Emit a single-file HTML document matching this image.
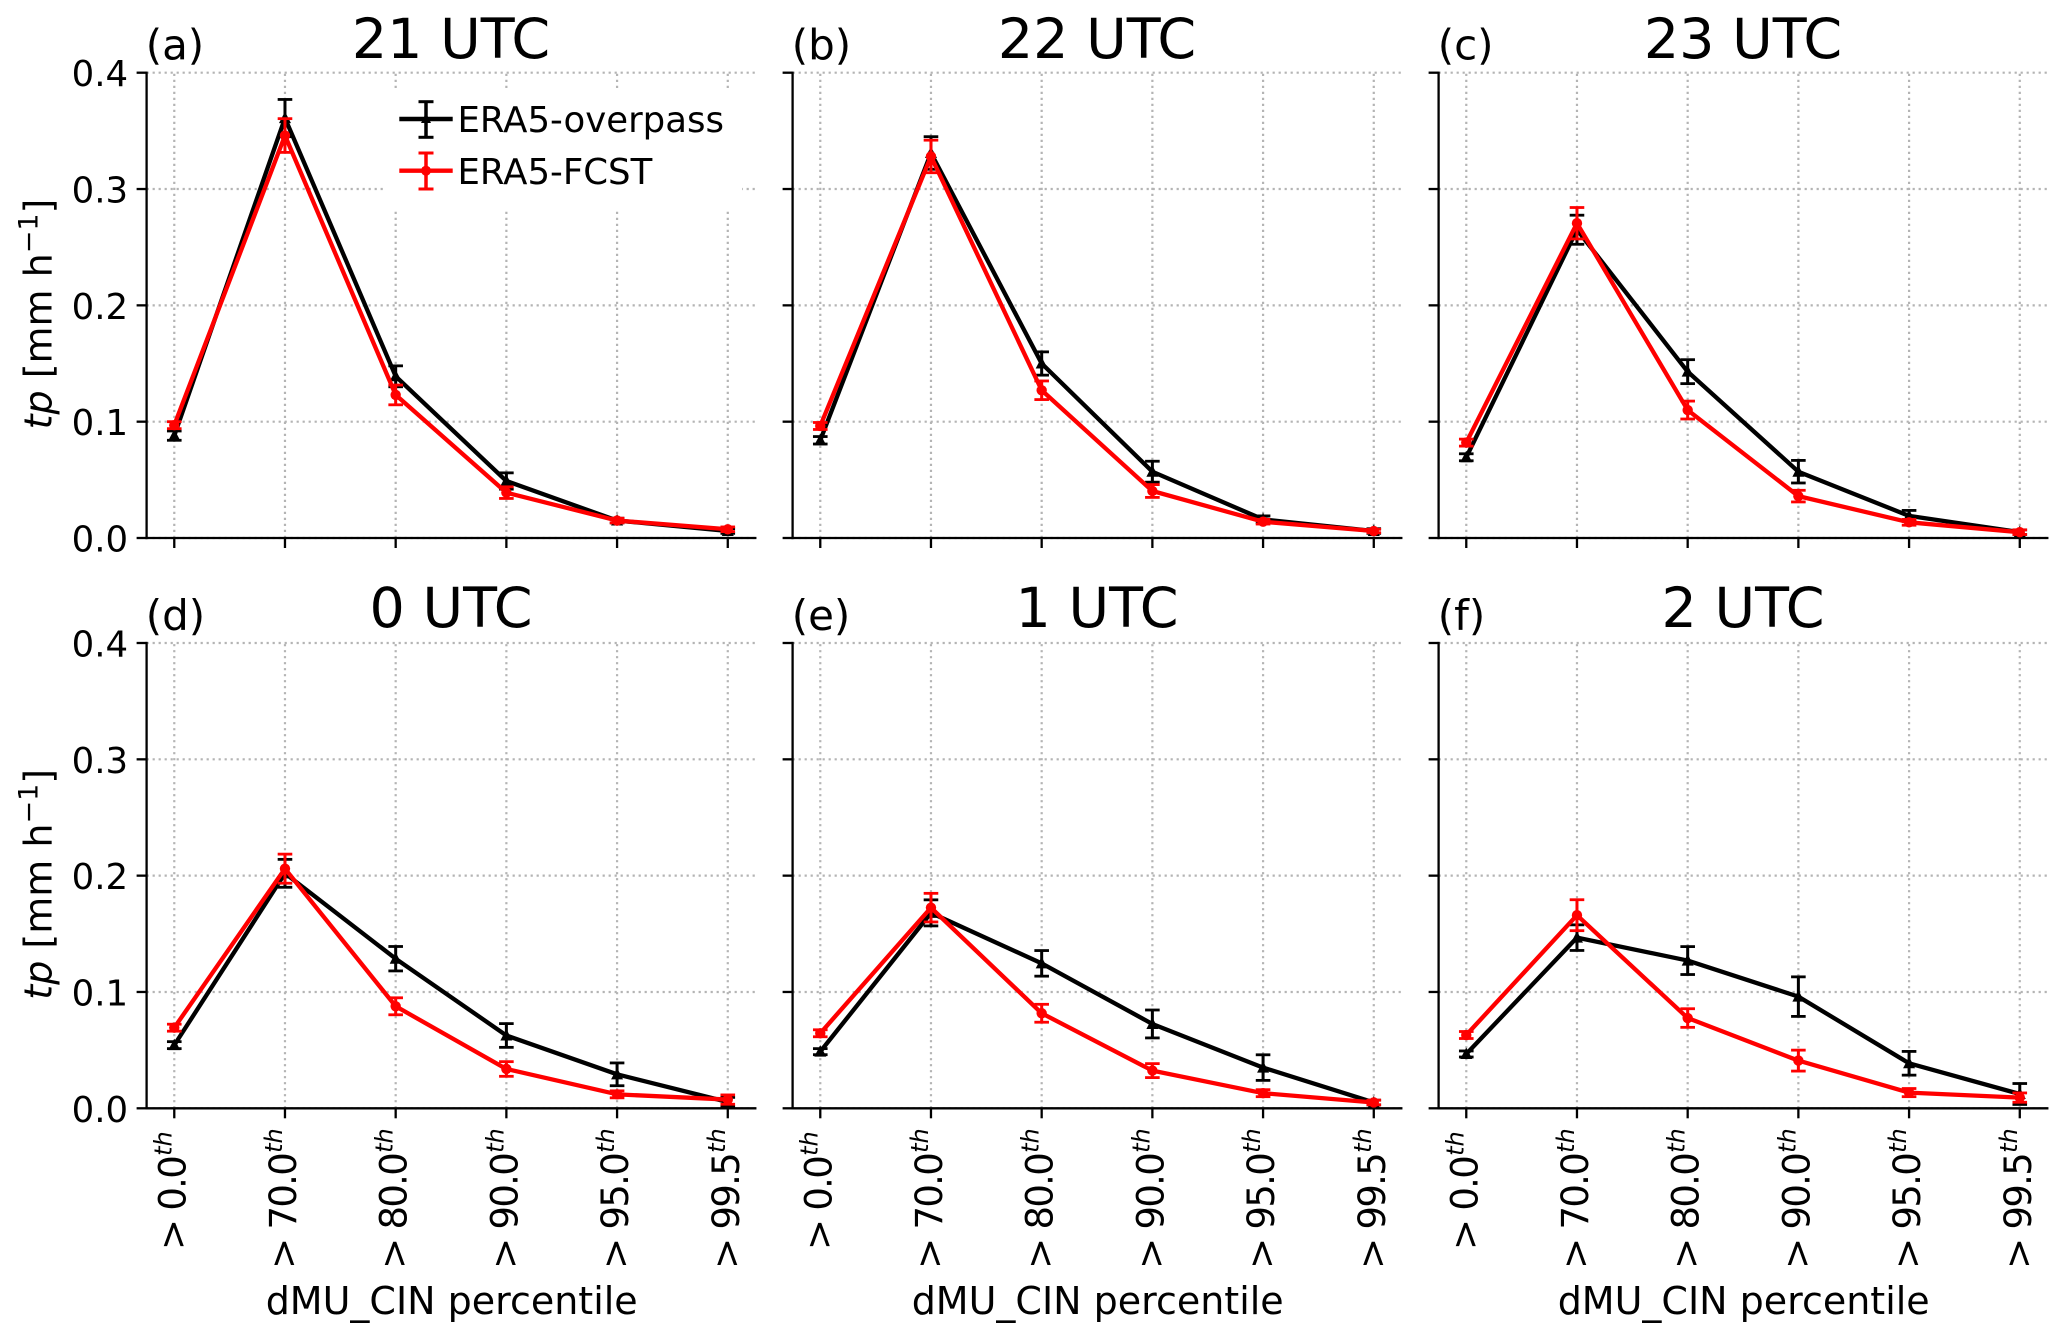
<!DOCTYPE html>
<html lang="en">
<head>
<meta charset="utf-8">
<title>ERA5 tp by dMU_CIN percentile</title>
<style>
  html, body { margin: 0; padding: 0; background: #fff; }
  svg { display: block; font-family: "DejaVu Sans", "Liberation Sans", sans-serif; fill: #000; }
  .title { font-size: 55.5px; text-anchor: middle; }
  .letter { font-size: 42px; }
  .xlabel { font-size: 38px; text-anchor: middle; }
  .ylabel { font-size: 38px; text-anchor: middle; }
  .legend-text { font-size: 35.5px; }
  .ytick { font-size: 35.5px; text-anchor: end; }
  .xtick { font-size: 37px; text-anchor: end; letter-spacing: -1.7px; }
</style>
</head>
<body>
<svg id="figure" xmlns="http://www.w3.org/2000/svg" width="2067" height="1341" viewBox="0 0 2067 1341">
  <rect x="0" y="0" width="2067" height="1341" fill="#ffffff"/>
  <g id="panels"></g>

  <g>
    <text class="title" x="451" y="58">21 UTC</text>
    <text class="title" x="1097" y="58">22 UTC</text>
    <text class="title" x="1743" y="58">23 UTC</text>
    <text class="title" x="451" y="627">0 UTC</text>
    <text class="title" x="1097" y="627">1 UTC</text>
    <text class="title" x="1743" y="627">2 UTC</text>
  </g>
  <g>
    <text class="letter" x="145.7" y="59.5">(a)</text>
    <text class="letter" x="791.7" y="59.5">(b)</text>
    <text class="letter" x="1437.7" y="59.5">(c)</text>
    <text class="letter" x="145.7" y="630">(d)</text>
    <text class="letter" x="791.7" y="630">(e)</text>
    <text class="letter" x="1437.7" y="630">(f)</text>
  </g>
  <g>
    <text class="ylabel" transform="translate(51.7,314) rotate(-90)"><tspan font-style="italic">tp</tspan> [mm h<tspan dy="-14" font-size="27">−1</tspan><tspan dy="14">]</tspan></text>
    <text class="ylabel" transform="translate(51.7,884.3) rotate(-90)"><tspan font-style="italic">tp</tspan> [mm h<tspan dy="-14" font-size="27">−1</tspan><tspan dy="14">]</tspan></text>
  </g>
  <g>
    <text class="xlabel" x="451.7" y="1314">dMU_CIN percentile</text>
    <text class="xlabel" x="1097.7" y="1314">dMU_CIN percentile</text>
    <text class="xlabel" x="1743.7" y="1314">dMU_CIN percentile</text>
  </g>

  <g>
    <g>
      <line x1="426" y1="101.7" x2="426" y2="137.3" stroke="#000" stroke-width="3.5"/>
      <line x1="418.5" y1="101.7" x2="433.5" y2="101.7" stroke="#000" stroke-width="3"/>
      <line x1="418.5" y1="137.3" x2="433.5" y2="137.3" stroke="#000" stroke-width="3"/>
      <line x1="399.3" y1="119" x2="452.7" y2="119" stroke="#000" stroke-width="4.4"/>
      <polygon points="426,113 431,123 421,123" fill="#000"/>
      <text class="legend-text" x="457.5" y="132">ERA5-overpass</text>
    </g>
    <g>
      <line x1="426" y1="153" x2="426" y2="189" stroke="#f00" stroke-width="3.5"/>
      <line x1="418.5" y1="153" x2="433.5" y2="153" stroke="#f00" stroke-width="3"/>
      <line x1="418.5" y1="189" x2="433.5" y2="189" stroke="#f00" stroke-width="3"/>
      <line x1="399.3" y1="170.7" x2="452.7" y2="170.7" stroke="#f00" stroke-width="4.4"/>
      <circle cx="426" cy="170.7" r="5" fill="#f00"/>
      <text class="legend-text" x="457.5" y="184">ERA5-FCST</text>
    </g>
  </g>
</svg>

<script>
// ---- chart data ----
const categories = [0.0, 70.0, 80.0, 90.0, 95.0, 99.5];
const xTickLabels = ["> 0.0", "> 70.0", "> 80.0", "> 90.0", "> 95.0", "> 99.5"];
const xTickSuffix = "th";
const yTickValues = [0.0, 0.1, 0.2, 0.3, 0.4];
const yTickLabels = ["0.0", "0.1", "0.2", "0.3", "0.4"];

const overpass21 = [0.088, 0.361, 0.139, 0.049, 0.015, 0.006];
const overpass21Err = [0.004, 0.016, 0.009, 0.007, 0.002, 0.002];
const fcst21 = [0.097, 0.346, 0.123, 0.039, 0.015, 0.0075];
const fcst21Err = [0.003, 0.0145, 0.0085, 0.005, 0.002, 0.002];

const overpass22 = [0.084, 0.331, 0.150, 0.057, 0.016, 0.006];
const overpass22Err = [0.0032, 0.014, 0.010, 0.009, 0.003, 0.002];
const fcst22 = [0.0963, 0.328, 0.127, 0.0404, 0.014, 0.006];
const fcst22Err = [0.003, 0.014, 0.008, 0.0055, 0.002, 0.0015];

const overpass23 = [0.0694, 0.265, 0.143, 0.057, 0.019, 0.005];
const overpass23Err = [0.003, 0.0125, 0.0103, 0.0097, 0.0047, 0.002];
const fcst23 = [0.082, 0.2706, 0.110, 0.036, 0.0135, 0.005];
const fcst23Err = [0.003, 0.0135, 0.0077, 0.005, 0.0025, 0.002];

const overpass0 = [0.0543, 0.202, 0.1286, 0.0626, 0.0292, 0.0054];
const overpass0Err = [0.003, 0.012, 0.0105, 0.0102, 0.0098, 0.004];
const fcst0 = [0.0693, 0.206, 0.0877, 0.0338, 0.012, 0.0075];
const fcst0Err = [0.003, 0.0125, 0.0073, 0.0063, 0.003, 0.004];

const overpass1 = [0.0487, 0.168, 0.1246, 0.0725, 0.035, 0.005];
const overpass1Err = [0.0026, 0.0112, 0.011, 0.012, 0.011, 0.002];
const fcst1 = [0.0645, 0.1725, 0.0817, 0.0324, 0.013, 0.005];
const fcst1Err = [0.003, 0.0123, 0.0077, 0.006, 0.003, 0.002];

const overpass2 = [0.0467, 0.1467, 0.127, 0.096, 0.0387, 0.0123];
const overpass2Err = [0.0026, 0.011, 0.012, 0.017, 0.0102, 0.009];
const fcst2 = [0.063, 0.166, 0.0776, 0.041, 0.0135, 0.0092];
const fcst2Err = [0.003, 0.0133, 0.008, 0.009, 0.0035, 0.004];

// ---- layout ----
const NS = "http://www.w3.org/2000/svg";
const yMax = 0.4;
const plotHeight = 465.3;
const tickSpacing = 110.7;
const plotMargin = tickSpacing / 4;
const plotWidth = tickSpacing * (categories.length - 1) + 2 * plotMargin + 1;
const columnStart = 146.6;
const columnStep = 646;
const rowBottoms = [538, 1108.3];

const panels = [
  { col: 0, row: 0, overpass: overpass21, overpassErr: overpass21Err, fcst: fcst21, fcstErr: fcst21Err },
  { col: 1, row: 0, overpass: overpass22, overpassErr: overpass22Err, fcst: fcst22, fcstErr: fcst22Err },
  { col: 2, row: 0, overpass: overpass23, overpassErr: overpass23Err, fcst: fcst23, fcstErr: fcst23Err },
  { col: 0, row: 1, overpass: overpass0, overpassErr: overpass0Err, fcst: fcst0, fcstErr: fcst0Err },
  { col: 1, row: 1, overpass: overpass1, overpassErr: overpass1Err, fcst: fcst1, fcstErr: fcst1Err },
  { col: 2, row: 1, overpass: overpass2, overpassErr: overpass2Err, fcst: fcst2, fcstErr: fcst2Err }
];

function makeLine(parent, x1, y1, x2, y2, stroke, width) {
  const el = document.createElementNS(NS, "line");
  el.setAttribute("x1", x1);
  el.setAttribute("y1", y1);
  el.setAttribute("x2", x2);
  el.setAttribute("y2", y2);
  el.setAttribute("stroke", stroke);
  el.setAttribute("stroke-width", width);
  parent.appendChild(el);
  return el;
}

function makeGroup(parent) {
  const g = document.createElementNS(NS, "g");
  parent.appendChild(g);
  return g;
}

function drawAxes(root, left, bottom, xScale, yScale) {
  const gridGroup = makeGroup(root);
  
  
  yTickValues.forEach(function (v) {
    const g = makeLine(gridGroup, left, yScale(v), left + plotWidth, yScale(v), "#b4b4b4", 2.2);
    g.setAttribute("stroke-dasharray", "2.2 3.8");
    
    
  });
  categories.forEach(function (c, i) {
    const g = makeLine(gridGroup, xScale(i), bottom, xScale(i), bottom - plotHeight, "#b4b4b4", 2.2);
    g.setAttribute("stroke-dasharray", "2.2 3.8");
    
    
  });
}

function drawSpines(root, left, bottom, xScale, yScale, showYLabels, showXLabels) {
  const axisGroup = makeGroup(root);
  
  
  const ySpine = makeLine(axisGroup, left, bottom + 1.1, left, bottom - plotHeight - 1.1, "#000", 2.3);
  
  
  const xSpine = makeLine(axisGroup, left - 1.1, bottom, left + plotWidth, bottom, "#000", 2.3);
  
  

  yTickValues.forEach(function (v, i) {
    const t = makeLine(axisGroup, left - 10, yScale(v), left, yScale(v), "#000", 2.3);
    
    
    if (showYLabels) {
      const label = document.createElementNS(NS, "text");
      label.setAttribute("class", "ytick");
      label.setAttribute("x", left - 18.5);
      label.setAttribute("y", yScale(v) + 13.5);
      label.textContent = yTickLabels[i];
      
      
      axisGroup.appendChild(label);
    }
  });

  categories.forEach(function (c, i) {
    const t = makeLine(axisGroup, xScale(i), bottom, xScale(i), bottom + 10, "#000", 2.3);
    
    
    if (showXLabels) {
      const label = document.createElementNS(NS, "text");
      const labelOffset = xTickLabels[i].length < 6 ? 23 : 20;
      label.setAttribute("class", "xtick");
      label.setAttribute("transform", "translate(" + (xScale(i) + 11) + "," + (bottom + labelOffset) + ") rotate(-90)");
      label.appendChild(document.createTextNode(xTickLabels[i]));
      const sup = document.createElementNS(NS, "tspan");
      sup.setAttribute("dx", "1");
      sup.setAttribute("dy", "-14");
      sup.setAttribute("font-size", "24");
      sup.setAttribute("font-style", "italic");
      sup.setAttribute("letter-spacing", "0");
      sup.textContent = xTickSuffix;
      label.appendChild(sup);
      
      
      axisGroup.appendChild(label);
    }
  });
}

function drawSeries(root, values, errors, color, markerKind, xScale, yScale) {
  const seriesGroup = makeGroup(root);
  
  

  values.forEach(function (v, i) {
    const x = xScale(i);
    const hi = yScale(v + errors[i]);
    const lo = yScale(Math.max(v - errors[i], 0));
    const bar = makeLine(seriesGroup, x, hi, x, lo, color, 3);
    
    
    const capTop = makeLine(seriesGroup, x - 7.3, hi, x + 7.3, hi, color, 2.8);
    
    
    const capBottom = makeLine(seriesGroup, x - 7.3, lo, x + 7.3, lo, color, 2.8);
    
    
  });

  const path = document.createElementNS(NS, "polyline");
  path.setAttribute("points", values.map(function (v, i) { return xScale(i) + "," + yScale(v); }).join(" "));
  path.setAttribute("fill", "none");
  path.setAttribute("stroke", color);
  path.setAttribute("stroke-width", "4.3");
  path.setAttribute("stroke-linejoin", "round");
  
  
  seriesGroup.appendChild(path);

  values.forEach(function (v, i) {
    const x = xScale(i);
    const y = yScale(v);
    let marker;
    if (markerKind === "triangle") {
      marker = document.createElementNS(NS, "polygon");
      marker.setAttribute("points", x + "," + (y - 6.5) + " " + (x + 6) + "," + (y + 5) + " " + (x - 6) + "," + (y + 5));
    } else {
      marker = document.createElementNS(NS, "circle");
      marker.setAttribute("cx", x);
      marker.setAttribute("cy", y);
      marker.setAttribute("r", "5.2");
    }
    marker.setAttribute("fill", color);
    
    
    seriesGroup.appendChild(marker);
  });
}

const panelsRoot = document.getElementById("panels");
panels.forEach(function (p, index) {
  const left = columnStart + p.col * columnStep;
  const bottom = rowBottoms[p.row];
  const xScale = function (i) { return left + plotMargin + i * tickSpacing; };
  const yScale = function (v) { return bottom - (v / yMax) * plotHeight; };

  const panel = makeGroup(panelsRoot);
  
  

  drawAxes(panel, left, bottom, xScale, yScale);

  if (index === 0) {
    const legendBackground = document.createElementNS(NS, "rect");
    legendBackground.setAttribute("x", 385);
    legendBackground.setAttribute("y", 88);
    legendBackground.setAttribute("width", 357);
    legendBackground.setAttribute("height", 121);
    legendBackground.setAttribute("fill", "#ffffff");
    
    
    panel.appendChild(legendBackground);
  }

  drawSpines(panel, left, bottom, xScale, yScale, p.col === 0, p.row === 1);
  drawSeries(panel, p.overpass, p.overpassErr, "#000000", "triangle", xScale, yScale);
  drawSeries(panel, p.fcst, p.fcstErr, "#ff0000", "circle", xScale, yScale);
});
</script>
</body>
</html>
